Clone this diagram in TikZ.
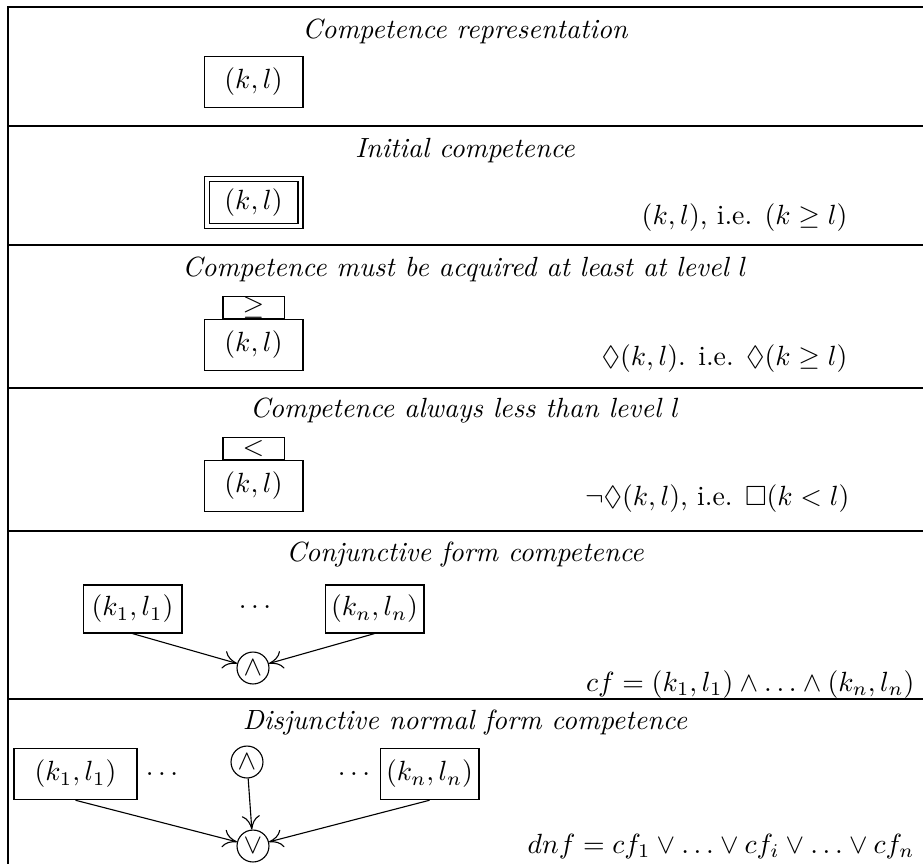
\documentclass[tikz,border=0pt]{standalone}
\usepackage{amsmath,amssymb}
\usetikzlibrary{arrows.meta,positioning}

\begin{document}
\begin{tikzpicture}[
  x=0.36pt,y=-0.36pt,
  sect/.style={font=\itshape},
  cbox/.style={draw,minimum width=35.6pt,minimum height=18.5pt,inner sep=2pt},
  cinit/.style={cbox,double,double distance=1.4pt,minimum width=33.8pt,minimum height=16.7pt},
  ctag/.style={draw,minimum width=22pt,minimum height=7.9pt,inner sep=0pt},
  conn/.style={draw,circle,minimum size=11.5pt,inner sep=0pt},
  fml/.style={anchor=base east,inner sep=0pt},
  arr/.style={-{To[length=5pt,width=6.5pt]}},
]
\useasboundingbox (0,0) rectangle (923,864);

% table lines
\draw (923,7) -- (8,7) -- (8,864);
\foreach \y in {126,245,388,531,699}
  \draw (8,\y) -- (923,\y);

% representation
\node[sect] (t1) at (465,31) {Competence representation};
\node[cbox] (rep) at (253.5,82) {$(k,l)$};

% initial
\node[sect] (t2) at (465,151) {Initial competence};
\node[cinit] (init) at (253.5,202.5) {$(k,l)$};
\node[fml] (f2) at (848,224) {$(k,l)$, i.e. $(k\geq l)$};

% must be acquired
\node[sect] (t3) at (465,269) {Competence must be acquired at least at level $l$};
\node[cbox] (acq) at (253.5,345) {$(k,l)$};
\node[ctag,above=0pt of acq] (acqtag) {$\geq$};
\node[fml] (f3) at (848,365) {$\Diamond(k,l)$. i.e. $\Diamond(k\geq l)$};

% always less
\node[sect] (t4) at (465,411) {Competence always less than level $l$};
\node[cbox] (less) at (253.5,486) {$(k,l)$};
\node[ctag,above=0pt of less] (lesstag) {$<$};
\node[fml] (f4) at (850,505) {$\neg\Diamond(k,l)$, i.e. $\Box(k<l)$};

% conjunctive form
\node[sect] (t5) at (465,555) {Conjunctive form competence};
\node[cbox,minimum height=17.3pt] (cfa) at (132.5,609) {$(k_1,l_1)$};
\node (cfdots) at (255,607) {$\ldots$};
\node[cbox,minimum height=17.3pt] (cfb) at (374.5,609) {$(k_n,l_n)$};
\node[conn] (cfand) at (253,668) {$\wedge$};
\draw[arr] (cfa.south) -- (cfand);
\draw[arr] (cfb.south) -- (cfand);
\node[fml] (f5) at (915,691) {$cf=(k_1,l_1)\wedge\ldots\wedge(k_n,l_n)$};

% disjunctive normal form
\node[sect] (t6) at (465,723) {Disjunctive normal form competence};
\node[cbox,minimum width=44.3pt] (dnfa) at (75.5,774) {$(k_1,l_1)$};
\node (dnfdots1) at (162,774) {$\ldots$};
\node[conn] (dnfand) at (247,762) {$\wedge$};
\node (dnfdots2) at (354,774) {$\ldots$};
\node[cbox] (dnfb) at (429.5,774) {$(k_n,l_n)$};
\node[conn] (dnfor) at (253,846) {$\vee$};
\draw[arr] (dnfa.south) -- (dnfor);
\draw[arr] (dnfand) -- (dnfor);
\draw[arr] (dnfb.south) -- (dnfor);
\node[fml] (f6) at (915,853) {$dnf=cf_1\vee\ldots\vee cf_i\vee\ldots\vee cf_n$};
\end{tikzpicture}
\end{document}
